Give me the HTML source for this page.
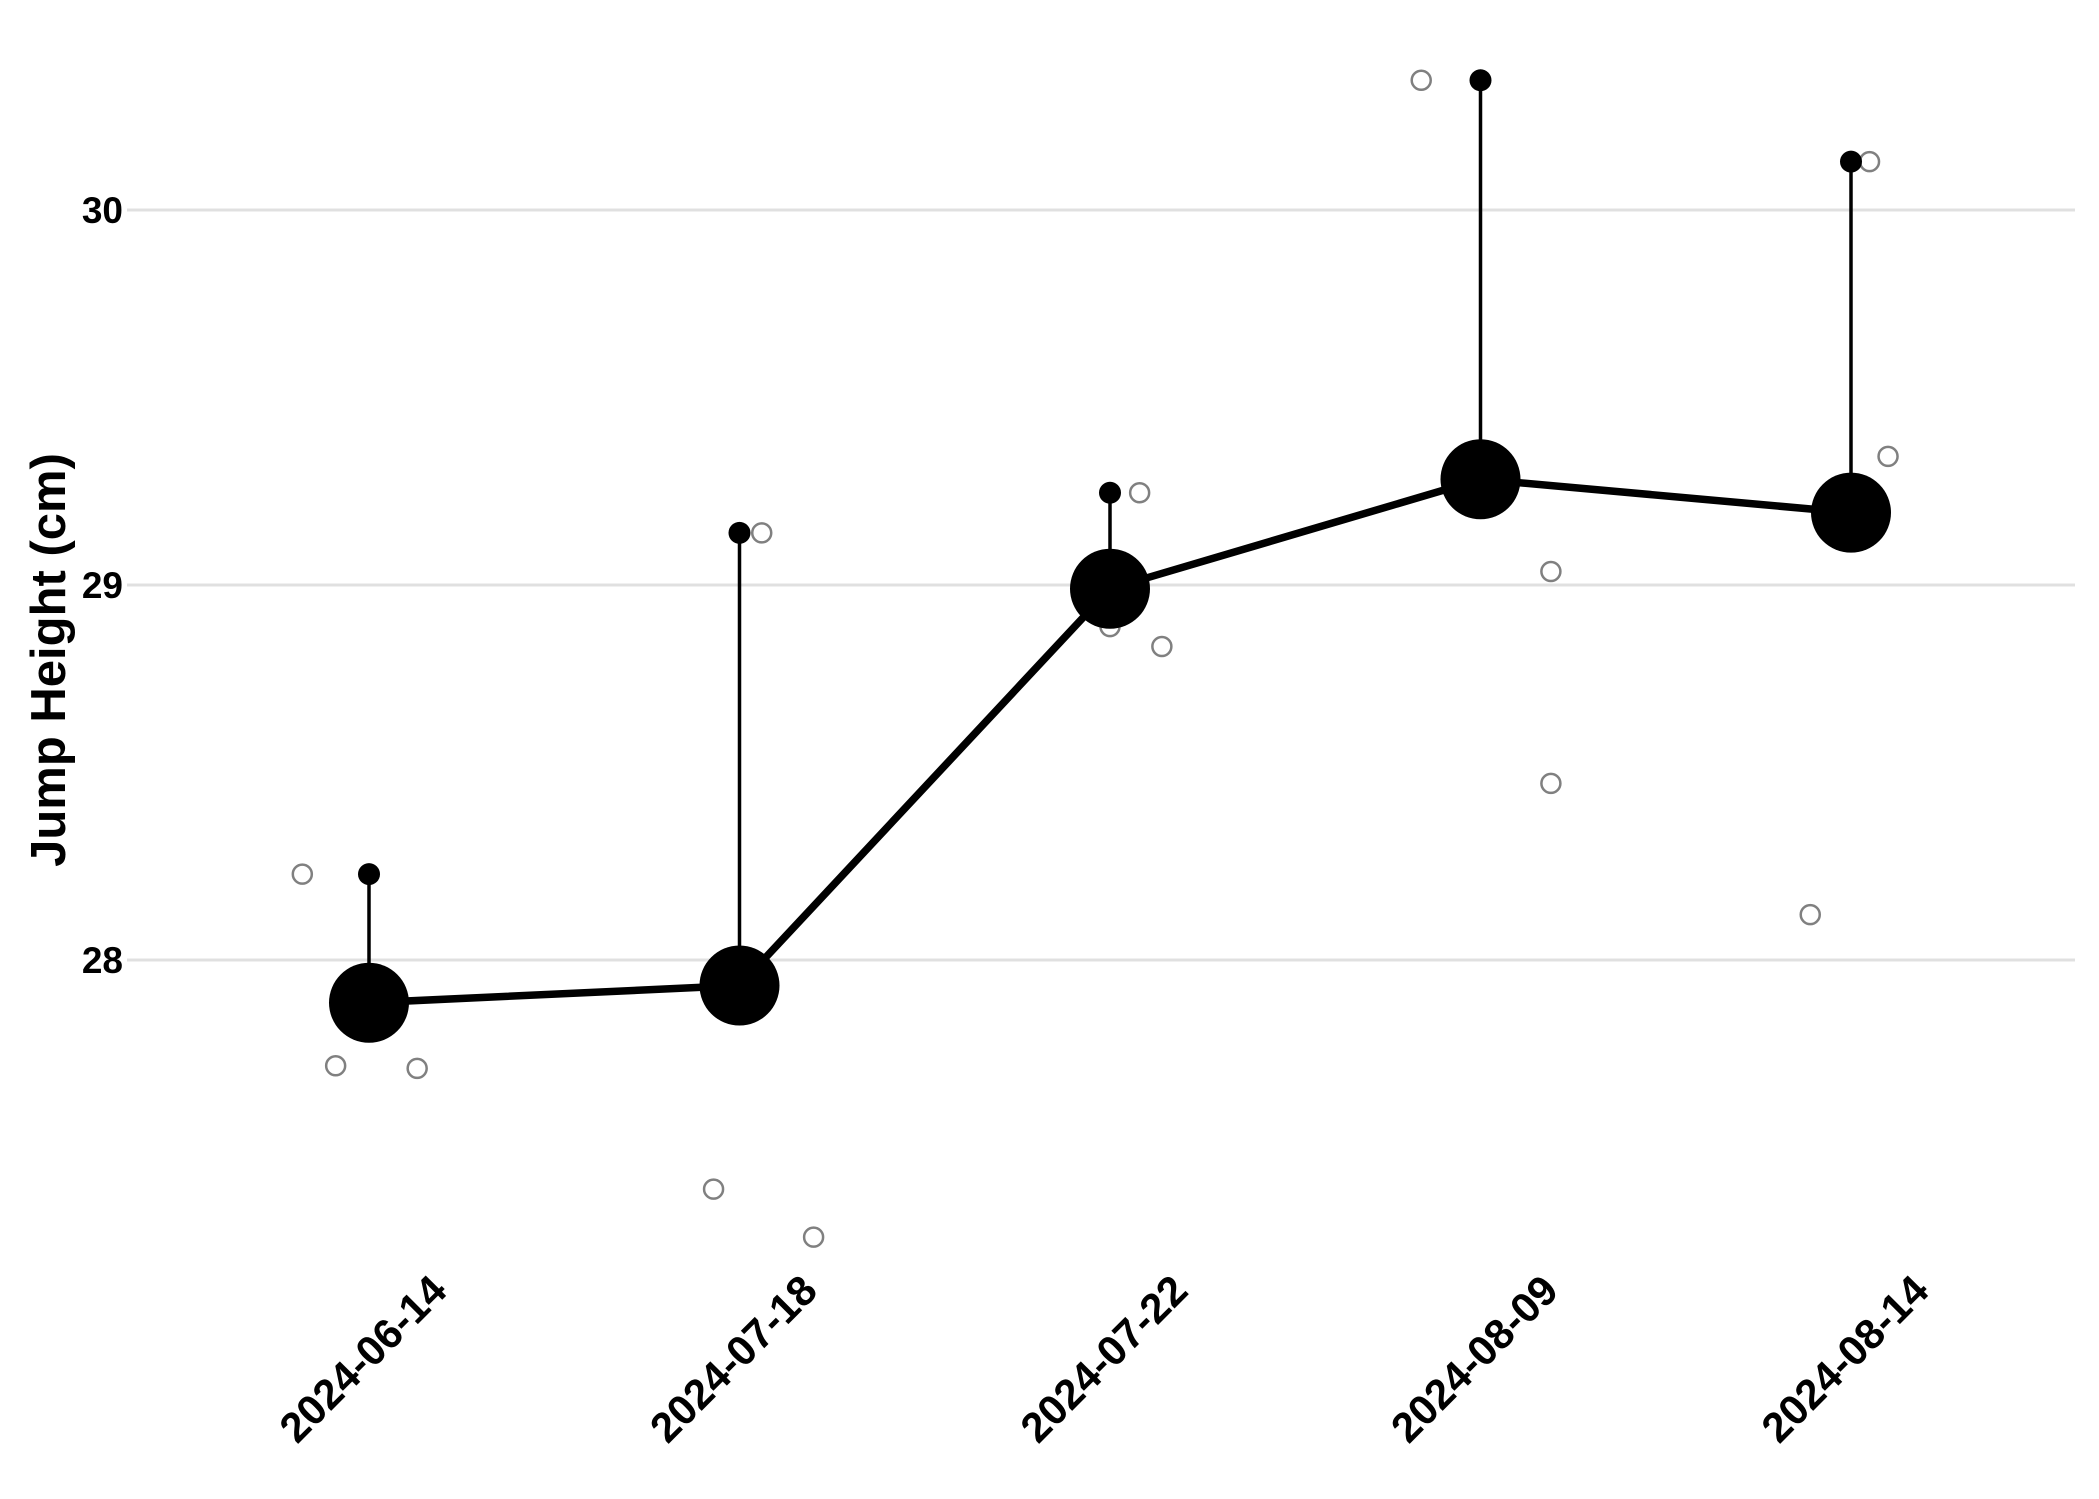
<!DOCTYPE html>
<html><head><meta charset="utf-8"><style>
html,body{margin:0;padding:0;background:#fff;}
svg{display:block;font-family:"Liberation Sans",Arial,sans-serif;}
</style></head><body>
<svg id="chart" width="2099" height="1499" viewBox="0 0 2099 1499" xmlns="http://www.w3.org/2000/svg">
<g id="grid"></g>
<g id="yaxis"></g>
<g id="xaxis"></g>
<g id="raw"></g>
<g id="err"></g>
<g id="line"></g>
<text x="0" y="0" transform="translate(65,660) rotate(-90)" text-anchor="middle" font-size="49" font-weight="bold">Jump Height (cm)</text>
</svg>
<script>
const categories=["2024-06-14","2024-07-18","2024-07-22","2024-08-09","2024-08-14"];
const means=[27.886,27.932,28.99,29.282,29.193];
const errTops=[28.229,29.139,29.246,30.346,30.129];
const raw1=[28.229,27.718,27.711];
const raw2=[29.139,27.389,27.261];
const raw3=[29.246,28.889,28.836];
const raw4=[30.346,29.036,28.471];
const raw5=[30.129,29.343,28.121];
const rawJitter=[[-0.18,-0.09,0.13],[0.06,-0.07,0.2],[0.08,0.0,0.14],[-0.16,0.19,0.19],[0.05,0.1,-0.11]];
const yTicks=[28,29,30];
const raws=[raw1,raw2,raw3,raw4,raw5];
const NS="http://www.w3.org/2000/svg";
const x=i=>369+i*370.5;
const y=v=>960-(v-28)*375;
function mk(tag,parent,attrs){const e=document.createElementNS(NS,tag);for(const k in attrs)e.setAttribute(k,attrs[k]);document.getElementById(parent).appendChild(e);return e;}
yTicks.forEach(t=>{
  const g=mk('line','grid',{x1:127,x2:2075,y1:y(t),y2:y(t),stroke:'#e0e0e0','stroke-width':3});
  
  
  const l=mk('text','yaxis',{x:123,y:y(t)+13,'text-anchor':'end','font-size':37,'font-weight':'bold'});
  l.textContent=t;
  
  
});
categories.forEach((c,i)=>{
  const ax=x(i)+80, ay=1293;
  const l=mk('text','xaxis',{x:ax,y:ay,'text-anchor':'end','font-size':42,'font-weight':'bold',transform:`rotate(-45 ${ax} ${ay})`});
  l.textContent=c;
  
  
});
raws.forEach((arr,i)=>arr.forEach((v,j)=>{
  const e=mk('circle','raw',{cx:x(i+rawJitter[i][j]),cy:y(v),r:9.5,fill:'none',stroke:'#808080','stroke-width':2.5});
  
  
}));
categories.forEach((c,i)=>{
  const b=mk('line','err',{x1:x(i),x2:x(i),y1:y(means[i]),y2:y(errTops[i]),stroke:'#000','stroke-width':3.5});
  
  
  const d=mk('circle','err',{cx:x(i),cy:y(errTops[i]),r:11,fill:'#000'});
  
  
});
const p=mk('polyline','line',{points:means.map((m,i)=>x(i)+','+y(m)).join(' '),fill:'none',stroke:'#000','stroke-width':7.5,'stroke-linejoin':'round'});


means.forEach((m,i)=>{
  const e=mk('circle','line',{cx:x(i),cy:y(m),r:40,fill:'#000'});
  
  
});
</script>
</body></html>
